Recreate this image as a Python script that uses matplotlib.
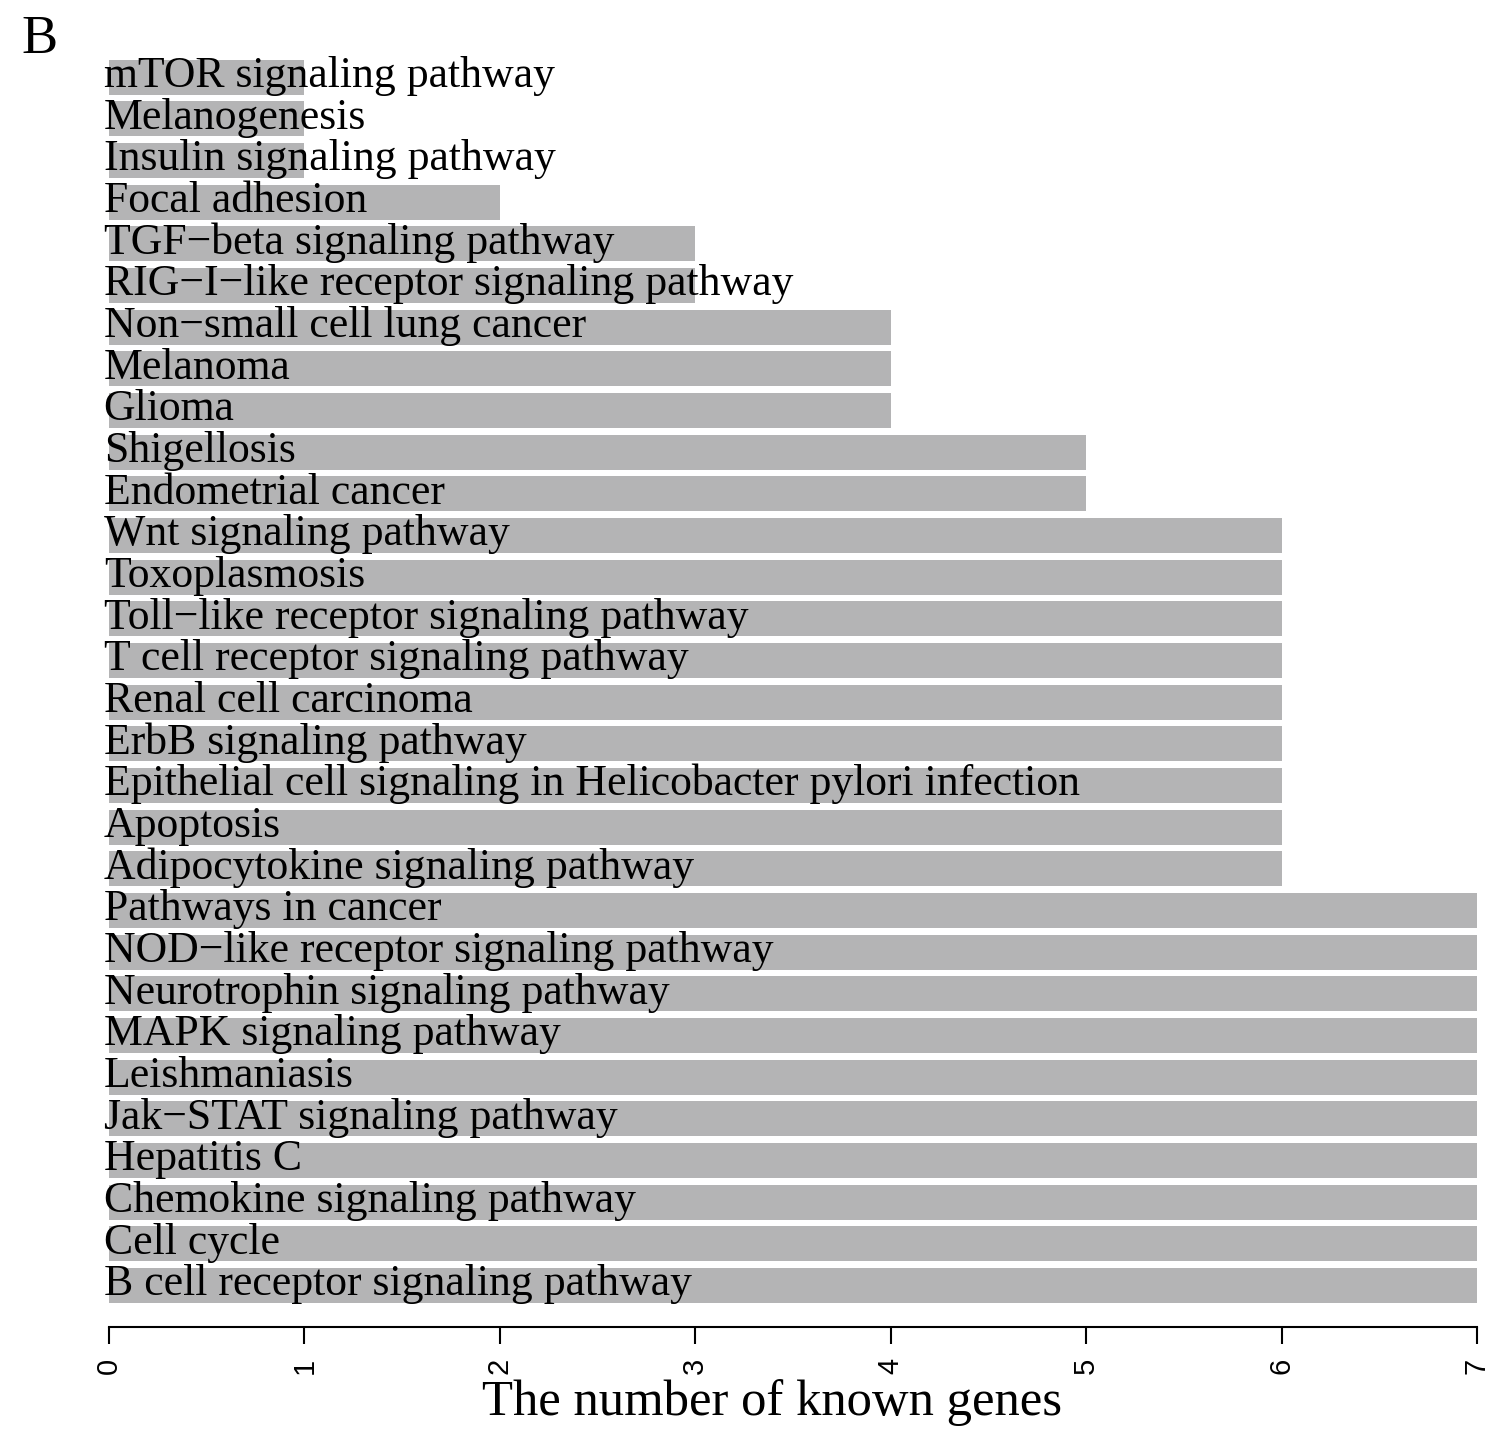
import matplotlib
matplotlib.use("Agg")
import matplotlib.pyplot as plt
import numpy as np

# pathways, top to bottom as in the figure
pathways = [
    "mTOR signaling pathway",
    "Melanogenesis",
    "Insulin signaling pathway",
    "Focal adhesion",
    "TGF\u2212beta signaling pathway",
    "RIG\u2212I\u2212like receptor signaling pathway",
    "Non\u2212small cell lung cancer",
    "Melanoma",
    "Glioma",
    "Shigellosis",
    "Endometrial cancer",
    "Wnt signaling pathway",
    "Toxoplasmosis",
    "Toll\u2212like receptor signaling pathway",
    "T cell receptor signaling pathway",
    "Renal cell carcinoma",
    "ErbB signaling pathway",
    "Epithelial cell signaling in Helicobacter pylori infection",
    "Apoptosis",
    "Adipocytokine signaling pathway",
    "Pathways in cancer",
    "NOD\u2212like receptor signaling pathway",
    "Neurotrophin signaling pathway",
    "MAPK signaling pathway",
    "Leishmaniasis",
    "Jak\u2212STAT signaling pathway",
    "Hepatitis C",
    "Chemokine signaling pathway",
    "Cell cycle",
    "B cell receptor signaling pathway",
]
known_genes = [1, 1, 1, 2, 3, 3, 4, 4, 4, 5, 5,
               6, 6, 6, 6, 6, 6, 6, 6, 6,
               7, 7, 7, 7, 7, 7, 7, 7, 7, 7]
xticks = [0, 1, 2, 3, 4, 5, 6, 7]

serif = "Liberation Serif"
sans = "Liberation Sans"

fig = plt.figure(figsize=(14.94, 14.36), dpi=100)
ax = fig.add_axes([109 / 1494, 1 - 1327 / 1436, 1368 / 1494, 1275 / 1436])

n = len(pathways)
ypos = np.arange(n)[::-1]
ax.barh(ypos, known_genes, height=0.84, color="#b4b4b5", edgecolor="none")

# labels sit on top of the bars, starting just left of zero
for y, name in zip(ypos, pathways):
    ax.text(-0.027, y - 0.24, name, ha="left", va="baseline",
            fontsize=31.5, family=serif, color="black")

ax.set_xlim(0, 7)
ax.set_ylim(-1.0, n - 1 + 0.6)
ax.set_yticks([])
for s in ["top", "right", "left"]:
    ax.spines[s].set_visible(False)
ax.spines["bottom"].set_linewidth(1.5)
ax.spines["bottom"].set_bounds(0, 7)
ax.set_xticks(xticks)
ax.set_xticklabels([str(t) for t in xticks], rotation=90,
                   fontsize=21, family=sans)
ax.tick_params(axis="x", length=12, width=1.5, pad=10)

ax.set_xlabel("The number of known genes", fontsize=36.5, family=serif)
ax.xaxis.set_label_coords(0.4846, -0.059)
ax.xaxis.label.set_va("center")

fig.text(21 / 1494, 1 - 40 / 1436, "B", fontsize=39, family=serif,
         ha="left", va="center")

fig.savefig("out.png", dpi=100)
